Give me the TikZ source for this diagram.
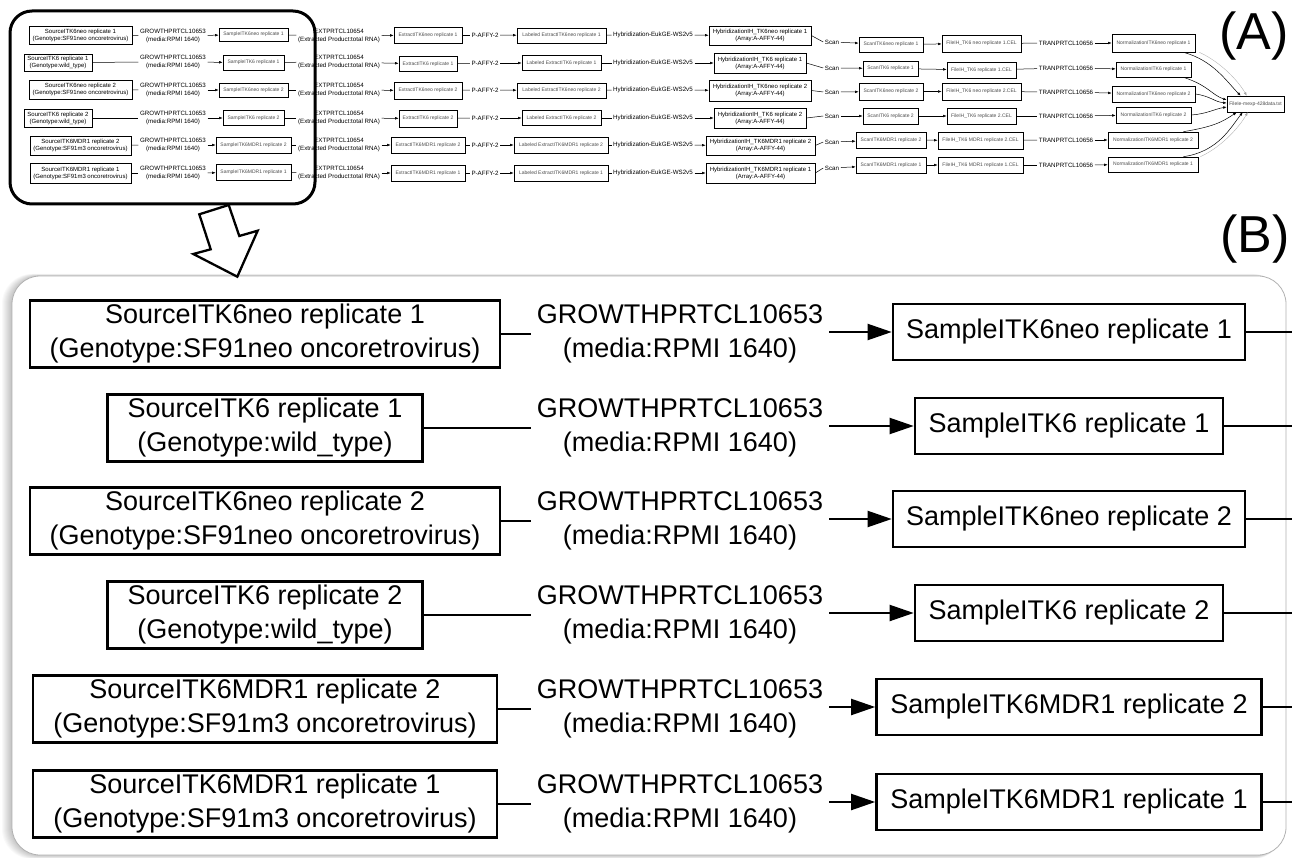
\documentclass[tikz,border=0pt]{standalone}
\usepackage{fontspec}
\setmainfont{Liberation Sans}
\usetikzlibrary{arrows.meta,calc}
\tikzset{
 abox/.style={draw, line width=0.6pt, inner sep=0pt, font=\fontsize{5}{6}\selectfont, text=black!70, align=center},
 abig/.style={draw, line width=0.6pt, inner sep=0pt, font=\fontsize{6}{7}\selectfont, align=center},
 alab/.style={inner sep=1.5pt, font=\fontsize{6.2}{7.2}\selectfont, align=center},
 aln/.style={line width=0.5pt},
 aar/.style={line width=0.5pt, -{Latex[length=3.5pt,width=2.6pt]}},
 agr/.style={line width=0.3pt, draw=black!35, -{Latex[length=3.5pt,width=2.6pt]}},
 bbox/.style={draw, line width=2.6pt, inner sep=0pt, font=\fontsize{27}{34}\selectfont, align=center},
 blab/.style={inner xsep=6pt, inner ysep=2pt, font=\fontsize{27}{34}\selectfont, align=center},
 bln/.style={line width=2pt},
 bar/.style={line width=2pt, -{Triangle[length=24pt,width=16pt]}},
 tag/.style={font=\fontsize{52}{56}\selectfont, inner sep=0pt},
}
\begin{document}
\begin{tikzpicture}[x=1pt,y=-1pt]
\useasboundingbox (0,0) rectangle (1292,858);
\fill[white] (0,0) rectangle (1292,858);

% ---------------- panel B background ----------------
\foreach \k in {1,...,10}{
  \fill[black, opacity=0.025, rounded corners=30pt] ({12-\k},{276-0.2*\k}) rectangle ({1286-0.3*\k},{855+0.4*\k});
}
\draw[black!30, line width=0.8pt, fill=white, rounded corners=28pt] (12,276) rectangle (1286,855);

% ---------------- panel A ----------------
% row 1
\node[abig, minimum width=103, minimum height=18] (a1s) at (80.5,35) {SourceITK6neo replicate 1\\(Genotype:SF91neo oncoretrovirus)};
\node[alab] (a1g) at (173,36) {GROWTHPRTCL10653\\(media:RPMI 1640)};
\node[abox, minimum width=69, minimum height=13] (a1m) at (253.5,34.5) {SampleITK6neo replicate 1};
\node[alab] (a1e) at (339,36) {EXTPRTCL10654\\(Extracted Product:total RNA)};
\node[abox, minimum width=68, minimum height=16] (a1x) at (428,35) {ExtractITK6neo replicate 1};
\node[alab] (a1p) at (485,35) {P-AFFY-2};
\node[abox, minimum width=89, minimum height=15] (a1l) at (561.5,35.5) {Labeled ExtractITK6neo replicate 1};
\node[alab] (a1h) at (653,35) {Hybridization-EukGE-WS2v5};
\node[abig, minimum width=102, minimum height=19] (a1y) at (760,35.5) {HybridizationIH\_TK6neo replicate 1\\(Array:A-AFFY-44)};
\node[alab] (a1c) at (832,42) {Scan};
\node[abox, minimum width=64, minimum height=15] (a1n) at (891,44.5) {ScanITK6neo replicate 1};
\node[abox, minimum width=79, minimum height=17] (a1f) at (981.5,43.5) {FileIH\_TK6 neo replicate 1.CEL};
\node[alab] (a1t) at (1066,43) {TRANPRTCL10656};
\node[abox, minimum width=83, minimum height=18] (a1z) at (1153.5,43) {NormalizationITK6neo replicate 1};
% row 2
\node[abig, minimum width=68, minimum height=17] (a2s) at (58,62.5) {SourceITK6 replicate 1\\(Genotype:wild\_type)};
\node[alab] (a2g) at (173,62) {GROWTHPRTCL10653\\(media:RPMI 1640)};
\node[abox, minimum width=61, minimum height=15] (a2m) at (253.5,62.5) {SampleITK6 replicate 1};
\node[alab] (a2e) at (339,62) {EXTPRTCL10654\\(Extracted Product:total RNA)};
\node[abox, minimum width=58, minimum height=15] (a2x) at (428,64) {ExtractITK6 replicate 1};
\node[alab] (a2p) at (485,63) {P-AFFY-2};
\node[abox, minimum width=79, minimum height=15] (a2l) at (561.5,63) {Labeled ExtractITK6 replicate 1};
\node[alab] (a2h) at (653,63) {Hybridization-EukGE-WS2v5};
\node[abig, minimum width=92, minimum height=20] (a2y) at (760,63) {HybridizationIH\_TK6 replicate 1\\(Array:A-AFFY-44)};
\node[alab] (a2c) at (832,68) {Scan};
\node[abox, minimum width=55, minimum height=15] (a2n) at (890.5,68.5) {ScanITK6 replicate 1};
\node[abox, minimum width=69, minimum height=16] (a2f) at (981.5,70) {FileIH\_TK6 replicate 1.CEL};
\node[alab] (a2t) at (1066,68) {TRANPRTCL10656};
\node[abox, minimum width=75, minimum height=15] (a2z) at (1153.5,69.5) {NormalizationITK6 replicate 1};
% row 3
\node[abig, minimum width=103, minimum height=19] (a3s) at (80.5,89.5) {SourceITK6neo replicate 2\\(Genotype:SF91neo oncoretrovirus)};
\node[alab] (a3g) at (173,90) {GROWTHPRTCL10653\\(media:RPMI 1640)};
\node[abox, minimum width=69, minimum height=14] (a3m) at (253.5,90) {SampleITK6neo replicate 2};
\node[alab] (a3e) at (339,90) {EXTPRTCL10654\\(Extracted Product:total RNA)};
\node[abox, minimum width=68, minimum height=17] (a3x) at (428,90.5) {ExtractITK6neo replicate 2};
\node[alab] (a3p) at (485,90) {P-AFFY-2};
\node[abox, minimum width=89, minimum height=15] (a3l) at (561.5,90.5) {Labeled ExtractITK6neo replicate 2};
\node[alab] (a3h) at (653,90) {Hybridization-EukGE-WS2v5};
\node[abig, minimum width=102, minimum height=21] (a3y) at (760,90.5) {HybridizationIH\_TK6neo replicate 2\\(Array:A-AFFY-44)};
\node[alab] (a3c) at (832,92) {Scan};
\node[abox, minimum width=64, minimum height=17] (a3n) at (891,91.5) {ScanITK6neo replicate 2};
\node[abox, minimum width=79, minimum height=17] (a3f) at (981.5,91.5) {FileIH\_TK6 neo replicate 2.CEL};
\node[alab] (a3t) at (1066,92) {TRANPRTCL10656};
\node[abox, minimum width=83, minimum height=16] (a3z) at (1153.5,94) {NormalizationITK6neo replicate 2};
% row 4
\node[abig, minimum width=68, minimum height=18] (a4s) at (58,118) {SourceITK6 replicate 2\\(Genotype:wild\_type)};
\node[alab] (a4g) at (173,118) {GROWTHPRTCL10653\\(media:RPMI 1640)};
\node[abox, minimum width=61, minimum height=15] (a4m) at (253.5,118) {SampleITK6 replicate 2};
\node[alab] (a4e) at (339,118) {EXTPRTCL10654\\(Extracted Product:total RNA)};
\node[abox, minimum width=58, minimum height=17] (a4x) at (428,118.5) {ExtractITK6 replicate 2};
\node[alab] (a4p) at (485,118) {P-AFFY-2};
\node[abox, minimum width=79, minimum height=15] (a4l) at (561.5,118) {Labeled ExtractITK6 replicate 2};
\node[alab] (a4h) at (653,118) {Hybridization-EukGE-WS2v5};
\node[abig, minimum width=92, minimum height=20] (a4y) at (760,118) {HybridizationIH\_TK6 replicate 2\\(Array:A-AFFY-44)};
\node[alab] (a4c) at (832,116) {Scan};
\node[abox, minimum width=55, minimum height=16] (a4n) at (890.5,116) {ScanITK6 replicate 2};
\node[abox, minimum width=69, minimum height=16] (a4f) at (981.5,116) {FileIH\_TK6 replicate 2.CEL};
\node[alab] (a4t) at (1066,116) {TRANPRTCL10656};
\node[abox, minimum width=75, minimum height=16] (a4z) at (1153.5,115) {NormalizationITK6 replicate 2};
% row 5
\node[abig, minimum width=101, minimum height=19] (a5s) at (80.5,145.5) {SourceITK6MDR1 replicate 2\\(Genotype:SF91m3 oncoretrovirus)};
\node[alab] (a5g) at (173,145) {GROWTHPRTCL10653\\(media:RPMI 1640)};
\node[abox, minimum width=75, minimum height=16] (a5m) at (253.5,145) {SampleITK6MDR1 replicate 2};
\node[alab] (a5e) at (339,145) {EXTPRTCL10654\\(Extracted Product:total RNA)};
\node[abox, minimum width=74, minimum height=16] (a5x) at (428,145) {ExtractITK6MDR1 replicate 2};
\node[alab] (a5p) at (485,145) {P-AFFY-2};
\node[abox, minimum width=94, minimum height=16] (a5l) at (561,145) {Labeled ExtractITK6MDR1 replicate 2};
\node[alab] (a5h) at (653,145) {Hybridization-EukGE-WS2v5};
\node[abig, minimum width=109, minimum height=19] (a5y) at (760.5,145.5) {HybridizationIH\_TK6MDR1 replicate 2\\(Array:A-AFFY-44)};
\node[alab] (a5c) at (832,142) {Scan};
\node[abox, minimum width=70, minimum height=16] (a5n) at (891,140) {ScanITK6MDR1 replicate 2};
\node[abox, minimum width=85, minimum height=17] (a5f) at (980.5,140.5) {FileIH\_TK6 MDR1 replicate 2.CEL};
\node[alab] (a5t) at (1066,140) {TRANPRTCL10656};
\node[abox, minimum width=90, minimum height=16] (a5z) at (1153,140) {NormalizationITK6MDR1 replicate 2};
% row 6
\node[abig, minimum width=101, minimum height=20] (a6s) at (80.5,173) {SourceITK6MDR1 replicate 1\\(Genotype:SF91m3 oncoretrovirus)};
\node[alab] (a6g) at (173,173) {GROWTHPRTCL10653\\(media:RPMI 1640)};
\node[abox, minimum width=75, minimum height=16] (a6m) at (253.5,172.5) {SampleITK6MDR1 replicate 1};
\node[alab] (a6e) at (339,173) {EXTPRTCL10654\\(Extracted Product:total RNA)};
\node[abox, minimum width=74, minimum height=16] (a6x) at (428,173) {ExtractITK6MDR1 replicate 1};
\node[alab] (a6p) at (485,173) {P-AFFY-2};
\node[abox, minimum width=94, minimum height=16] (a6l) at (561,173) {Labeled ExtractITK6MDR1 replicate 1};
\node[alab] (a6h) at (653,173) {Hybridization-EukGE-WS2v5};
\node[abig, minimum width=109, minimum height=20] (a6y) at (760.5,173) {HybridizationIH\_TK6MDR1 replicate 1\\(Array:A-AFFY-44)};
\node[alab] (a6c) at (832,168) {Scan};
\node[abox, minimum width=70, minimum height=16] (a6n) at (891,165) {ScanITK6MDR1 replicate 1};
\node[abox, minimum width=85, minimum height=16] (a6f) at (980.5,165) {FileIH\_TK6 MDR1 replicate 1.CEL};
\node[alab] (a6t) at (1066,165) {TRANPRTCL10656};
\node[abox, minimum width=90, minimum height=15] (a6z) at (1153,164.5) {NormalizationITK6MDR1 replicate 1};
% final file
\node[abox, minimum width=57, minimum height=16] (af) at (1255.5,104) {FileIe-mexp-428data.txt};

\foreach \r in {1,...,6}{
  \draw[aln] (a\r s) -- (a\r g);
  \draw[aar] (a\r g) -- (a\r m);
  \draw[aln] (a\r m) -- (a\r e);
  \draw[aar] (a\r e) -- (a\r x);
  \draw[aln] (a\r x) -- (a\r p);
  \draw[aar] (a\r p) -- (a\r l);
  \draw[aln] (a\r l) -- (a\r h);
  \draw[aar] (a\r h) -- (a\r y);
  \draw[aln] (a\r y.east) -- (a\r c.west);
  \draw[aar] (a\r c) -- (a\r n);
  \draw[aar] (a\r n) -- (a\r f);
  \draw[aln] (a\r f) -- (a\r t);
  \draw[aar] (a\r t) -- (a\r z);
}
% edges into the final file
\draw[aar] ($(a1z.south east)+(-12,0)$) .. controls +(30,8) and +(-14,-14) .. ($(af.north west)+(14,0)$);
\draw[agr] ($(a1z.south east)+(4,0)$) .. controls +(22,10) and +(-8,-14) .. ($(af.north west)+(20,0)$);
\draw[aar] ($(a2z.south east)+(-8,0)$) .. controls +(25,8) and +(-15,-5) .. ($(af.west)+(0,-4)$);
\draw[aar] (a3z.east) .. controls +(15,2) and +(-12,-1) .. ($(af.west)+(0,-1)$);
\draw[aar] (a4z.east) .. controls +(15,-1) and +(-12,2) .. ($(af.west)+(0,3)$);
\draw[aar] ($(a5z.north east)+(-15,0)$) .. controls +(30,-5) and +(-15,10) .. ($(af.south west)+(10,0)$);
\draw[aar] ($(a6z.north east)+(-15,0)$) .. controls +(35,-5) and +(-12,15) .. ($(af.south west)+(16,0)$);
\draw[agr] ($(a6z.north east)+(2,0)$) .. controls +(22,-10) and +(-8,14) .. ($(af.south west)+(21,0)$);

% frame of panel A
\draw[line width=3pt, rounded corners=22pt] (10,11) rectangle (315,204);

% ---------------- panel B ----------------
\foreach \r/\yy/\sw/\mw/\st/\sb/\mt in {
  1/334/470/352/{SourceITK6neo replicate 1}/{(Genotype:SF91neo oncoretrovirus)}/{SampleITK6neo replicate 1},
  2/428/315/308/{SourceITK6 replicate 1}/{(Genotype:wild\_type)}/{SampleITK6 replicate 1},
  3/521/470/352/{SourceITK6neo replicate 2}/{(Genotype:SF91neo oncoretrovirus)}/{SampleITK6neo replicate 2},
  4/615/315/308/{SourceITK6 replicate 2}/{(Genotype:wild\_type)}/{SampleITK6 replicate 2},
  5/709/464/385/{SourceITK6MDR1 replicate 2}/{(Genotype:SF91m3 oncoretrovirus)}/{SampleITK6MDR1 replicate 2},
  6/804/464/385/{SourceITK6MDR1 replicate 1}/{(Genotype:SF91m3 oncoretrovirus)}/{SampleITK6MDR1 replicate 1}}{
  \node[bbox, minimum width=\sw, minimum height=67] (b\r s) at (265,\yy) {\st\\\sb};
  \node[blab] (b\r g) at (680,\yy) {GROWTHPRTCL10653\\(media:RPMI 1640)};
  \node[bbox, minimum width=\mw, minimum height=56] (b\r m) at (1069,\yy-2) {\mt};
  \coordinate (b\r e) at (1292,\yy-2);
  \draw[bln] (b\r s.east) -- (b\r g.west |- b\r s.east);
  \draw[bar] (b\r g.east |- b\r m.west) -- (b\r m.west);
  \draw[bln] (b\r m.east) -- (b\r e);
}

% hollow arrow from A to B
\draw[line width=2.3pt, fill=white, line join=miter] (199.3,214.3) -- (228.7,205) -- (239.3,236) -- (257.7,230.7) -- (237.3,276.7) -- (193.3,254) -- (210.7,249.3) -- cycle;

% panel tags
\node[tag] (ta) at (1254,36) {(A)};
\node[tag] (tb) at (1255,239) {(B)};
\end{tikzpicture}
\end{document}
